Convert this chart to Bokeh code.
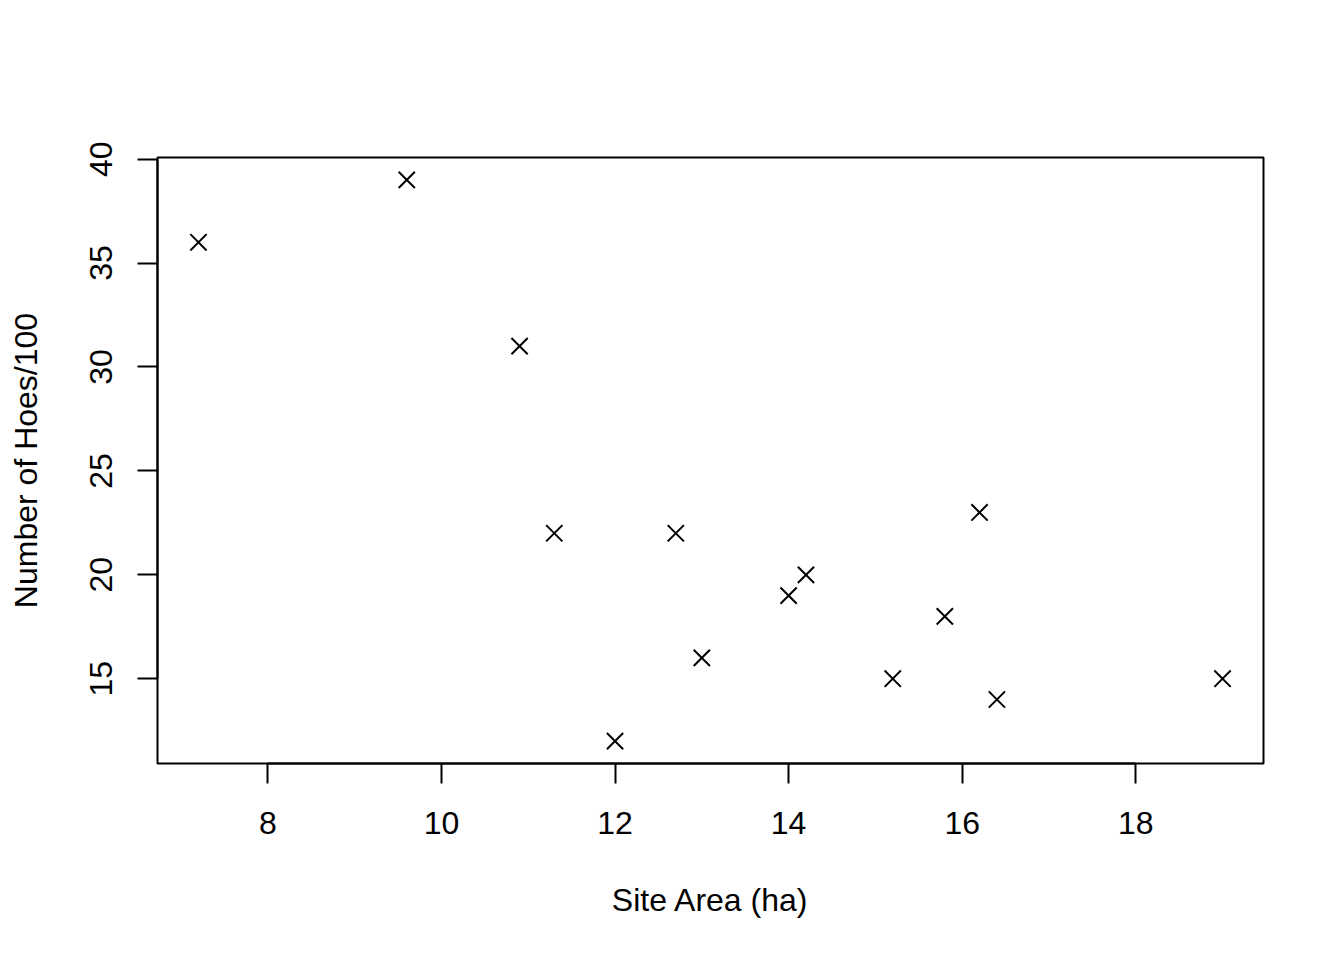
from bokeh.plotting import figure
from bokeh.models import Range1d, FixedTicker, ColumnDataSource
from bokeh.embed import file_html
from bokeh.resources import INLINE

site_area = [7.2, 9.6, 10.9, 11.3, 12.0, 12.7, 13.0, 14.0, 14.2, 15.2, 15.8, 16.2, 16.4, 19.0]
hoes = [36, 39, 31, 22, 12, 22, 16, 19, 20, 15, 18, 23, 14, 15]
x_ticks = [8, 10, 12, 14, 16, 18]
y_ticks = [15, 20, 25, 30, 35, 40]

FONT = "Liberation Sans"
FS = "32px"

def padded(vals, frac=0.04):
    lo, hi = min(vals), max(vals)
    d = (hi - lo) * frac
    return lo - d, hi + d

xr = padded(site_area)
yr = padded(hoes)

p = figure(width=1328, height=944, output_backend="svg", toolbar_location=None,
           x_range=Range1d(*xr), y_range=Range1d(*yr),
           min_border_left=157, min_border_right=65, min_border_top=157, min_border_bottom=181)
p.background_fill_color = "white"
p.border_fill_color = "white"
p.outline_line_color = "black"
p.outline_line_width = 2
p.xgrid.visible = False
p.ygrid.visible = False

src = ColumnDataSource(dict(x=site_area, y=hoes))
p.scatter("x", "y", source=src, marker="x", size=23, line_width=2, line_color="black")

for ax in (p.xaxis[0], p.yaxis[0]):
    ax.axis_line_width = 2
    ax.major_tick_line_width = 2
    ax.major_tick_out = 20
    ax.major_tick_in = 0
    ax.minor_tick_line_color = None
    ax.major_label_text_font = FONT
    ax.major_label_text_font_size = FS
    ax.major_label_text_color = "black"
    ax.axis_label_text_font = FONT
    ax.axis_label_text_font_size = FS
    ax.axis_label_text_font_style = "normal"
    ax.axis_label_text_color = "black"
    ax.major_tick_line_color = "black"
    ax.axis_line_color = "black"

p.xaxis[0].ticker = FixedTicker(ticks=x_ticks)
p.yaxis[0].ticker = FixedTicker(ticks=y_ticks)
p.xaxis[0].bounds = (min(x_ticks), max(x_ticks))
p.yaxis[0].bounds = (min(y_ticks), max(y_ticks))
p.xaxis[0].axis_label = "Site Area (ha)"
p.yaxis[0].axis_label = "Number of Hoes/100"
p.yaxis[0].major_label_orientation = "vertical"
p.xaxis[0].major_label_standoff = 28
p.yaxis[0].major_label_standoff = 25
p.xaxis[0].axis_label_standoff = 45
p.yaxis[0].axis_label_standoff = 44

open("out.html", "w").write(file_html(p, INLINE))
